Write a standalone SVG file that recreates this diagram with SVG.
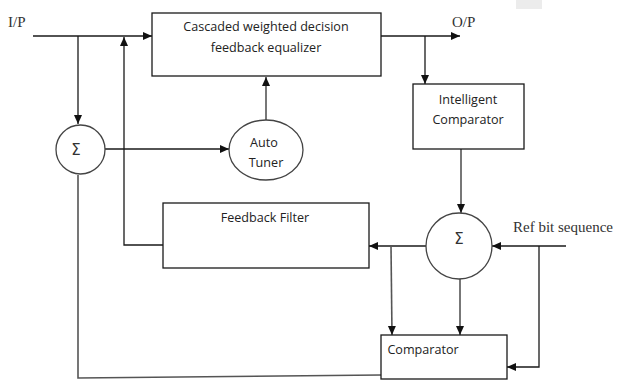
<svg xmlns="http://www.w3.org/2000/svg" width="628" height="381" viewBox="0 0 628 381">
<style>
.box{fill:#fff;stroke:#1a1a1a;stroke-width:1.3}
.circ{fill:#fff;stroke:#444;stroke-width:1.3}
.ln{fill:none;stroke:#1a1a1a;stroke-width:1.3}
.gl{fill:none;stroke:#555;stroke-width:1.6}
.t{font-family:"Open Sans","Liberation Sans",sans-serif;font-size:12.6px;fill:#222;text-anchor:middle}
.sg{font-family:"DejaVu Sans",sans-serif;font-size:15px;fill:#333;text-anchor:middle}
.s{font-family:"Liberation Serif",serif;font-size:15px;fill:#333}
</style>
<defs>
<marker id="ah" markerWidth="10" markerHeight="10" refX="9" refY="5" orient="auto" markerUnits="userSpaceOnUse">
<path d="M0,1 L9,5 L0,9 Z" fill="#111"/>
</marker>
</defs>
<rect x="516" y="0" width="26" height="9" fill="#ececec"/>
<g id="connectors">
<line class="ln" x1="33" y1="36" x2="152" y2="36" marker-end="url(#ah)"/>
<line class="ln" x1="78" y1="36" x2="78" y2="124" marker-end="url(#ah)"/>
<polyline class="ln" points="163,245 124,245 124,37" marker-end="url(#ah)"/>
<line class="ln" x1="105" y1="149" x2="229" y2="149" marker-end="url(#ah)"/>
<line class="gl" x1="266" y1="120" x2="266" y2="77" marker-end="url(#ah)"/>
<line class="ln" x1="381" y1="36" x2="460" y2="36" marker-end="url(#ah)"/>
<line class="ln" x1="425" y1="36" x2="425" y2="84" marker-end="url(#ah)"/>
<line class="gl" x1="461" y1="149" x2="461" y2="213" marker-end="url(#ah)"/>
<line class="ln" x1="426" y1="246" x2="369" y2="246" marker-end="url(#ah)"/>
<line class="gl" x1="391" y1="246" x2="392" y2="335" marker-end="url(#ah)"/>
<line class="gl" x1="460" y1="279" x2="460" y2="335" marker-end="url(#ah)"/>
<line class="ln" x1="566" y1="246" x2="492" y2="246" marker-end="url(#ah)"/>
<polyline class="ln" points="539,246 539,367 507,367" marker-end="url(#ah)"/>
<polyline class="gl" points="381,375 78,378 78,175"/>
</g>
<g id="equalizer">
<rect class="box" x="152" y="13" width="229" height="63"/>
<text class="t" x="266" y="31">Cascaded weighted decision</text>
<text class="t" x="266" y="52">feedback equalizer</text>
</g>
<g id="sum1">
<circle class="circ" cx="80.5" cy="149.5" r="24.5"/>
<text class="sg" x="76" y="155">Σ</text>
</g>
<g id="autotuner">
<ellipse class="circ" cx="266" cy="150" rx="37" ry="30"/>
<text class="t" x="264" y="147">Auto</text>
<text class="t" x="266" y="167">Tuner</text>
</g>
<g id="intelligent">
<rect class="box" x="413" y="84" width="111" height="65"/>
<text class="t" x="468" y="104">Intelligent</text>
<text class="t" x="468" y="124">Comparator</text>
</g>
<g id="sum2">
<circle class="circ" cx="459" cy="246" r="33"/>
<text class="sg" x="459" y="244">Σ</text>
</g>
<g id="feedbackfilter">
<rect class="box" x="163" y="203" width="206" height="65"/>
<text class="t" x="265" y="222">Feedback Filter</text>
</g>
<g id="comparator">
<rect class="box" x="381" y="335" width="126" height="44"/>
<text class="t" x="423" y="354">Comparator</text>
</g>
<g id="labels">
<text class="s" x="8" y="27">I/P</text>
<text class="s" x="452" y="27">O/P</text>
<text class="s" x="513" y="232">Ref bit sequence</text>
</g>
</svg>
